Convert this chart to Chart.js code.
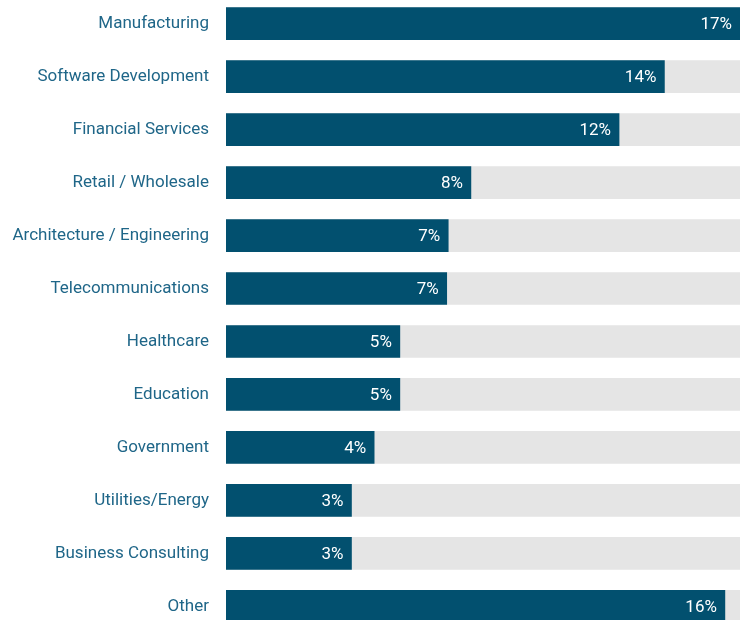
<!DOCTYPE html>
<html>
<head>
<meta charset="utf-8">
<script src="https://cdn.jsdelivr.net/npm/chart.js@4.4.0/dist/chart.umd.min.js"></script>
<style>
  html, body { margin: 0; padding: 0; background: #ffffff; overflow: hidden; }
  #c { position: absolute; left: 0; top: -30px; }
</style>
</head>
<body>
<canvas id="c" width="740" height="690" style="width:740px;height:690px"></canvas>
<script>
const categories = [
  "Manufacturing", "Software Development", "Financial Services", "Retail / Wholesale",
  "Architecture / Engineering", "Telecommunications", "Healthcare", "Education",
  "Government", "Utilities/Energy", "Business Consulting", "Other"
];
// bar lengths (percent)
const barValues = [17.0, 14.5, 13.0, 8.1, 7.35, 7.3, 5.75, 5.75, 4.9, 4.15, 4.15, 16.5];
// value labels printed on the bars
const valueLabels = ["17%", "14%", "12%", "8%", "7%", "7%", "5%", "5%", "4%", "3%", "3%", "16%"];
const scaleMax = 17.0;
const trackValues = categories.map(() => scaleMax);

const BAR = '#02506f';
const TRACK = '#e5e5e5';
const LABEL = '#1f6688';
const FONT = 'Roboto, "Liberation Sans", sans-serif';

const valueLabelPlugin = {
  id: 'valueLabels',
  afterDatasetsDraw(chart) {
    const ctx = chart.ctx;
    const meta = chart.getDatasetMeta(0);
    ctx.save();
    ctx.font = '17px ' + FONT;
    ctx.fillStyle = '#ffffff';
    ctx.textAlign = 'right';
    ctx.textBaseline = 'middle';
    meta.data.forEach((bar, i) => {
      ctx.fillText(valueLabels[i], bar.x - 8, bar.y + 1);
    });
    ctx.restore();
  }
};

new Chart(document.getElementById('c'), {
  type: 'bar',
  data: {
    labels: categories,
    datasets: [
      { data: barValues, backgroundColor: BAR, grouped: false, order: 0,
        barThickness: 32, borderWidth: 0 },
      { data: trackValues, backgroundColor: TRACK, grouped: false, order: 1,
        barThickness: 32, borderWidth: 0 }
    ]
  },
  options: {
    indexAxis: 'y',
    responsive: false,
    maintainAspectRatio: false,
    animation: false,
    layout: { padding: 0 },
    plugins: { legend: { display: false }, tooltip: { enabled: false } },
    scales: {
      x: { display: false, min: 0, max: scaleMax },
      y: {
        grid: { display: false, drawTicks: false },
        border: { display: false },
        ticks: {
          color: LABEL,
          font: { family: FONT, size: 17 },
          padding: 17,
          autoSkip: false
        },
        afterFit(scale) { scale.width = 226; }
      }
    }
  },
  plugins: [valueLabelPlugin]
});
</script>
</body>
</html>
